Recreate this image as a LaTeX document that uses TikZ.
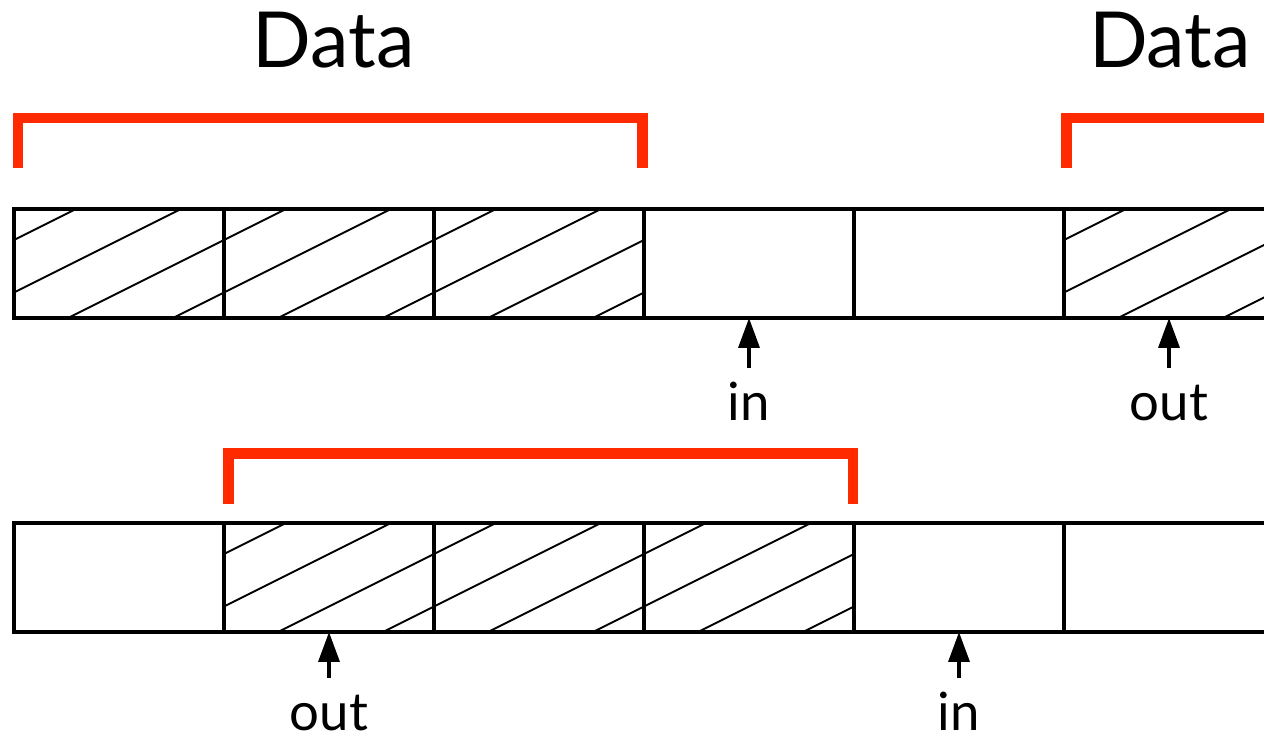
\documentclass[tikz,border=0pt]{standalone}
\usepackage{fontspec}
\setmainfont{Lato}
\usetikzlibrary{arrows.meta, positioning, calc}
\definecolor{bracketred}{RGB}{255,42,0}

\begin{document}
\begin{tikzpicture}[
  cell/.style={draw, line width=2pt, minimum width=4.2cm, minimum height=2.18cm, inner sep=0pt, outer sep=0pt},
  hatch/.style={line width=1.1pt},
  bracket/.style={draw=bracketred, line width=6pt, line join=miter},
  ptr/.style={-{Triangle[length=0.6cm, width=0.42cm]}, line width=2pt, shorten <=0.28cm},
  ptrlbl/.style={font=\fontsize{30}{36}\selectfont, inner sep=0pt, text height=22pt, anchor=base},
  title/.style={font=\fontsize{44}{52}\selectfont, inner sep=0pt, anchor=base}
]
  \useasboundingbox (0,0) rectangle (25.28,14.84);
  \clip (0,0) rectangle (25.28,14.84);

  \node[title] (d1) at (6.67,13.48) {Data};
  \node[title] (d2) at (23.4,13.48) {Data};
  \draw[bracket] (0.36,11.48) -- (0.36,12.48) -- (12.85,12.48) -- (12.85,11.48);
  \draw[bracket] (21.33,11.48) -- (21.33,12.48) -- (26,12.48);

  \node[cell] (t0) at (2.38,9.57) {};
  \node[cell] (t1) at (6.58,9.57) {};
  \node[cell] (t2) at (10.78,9.57) {};
  \node[cell] (t3) at (14.98,9.57) {};
  \node[cell] (t4) at (19.18,9.57) {};
  \node[cell] (t5) at (23.38,9.57) {};

  \begin{scope}
    \clip (t0.north west) rectangle (t2.south east) (t5.north west) rectangle (t5.south east);
    \foreach \k in {-3,...,12}
      \draw[hatch] ({1.36+2.1*\k-4},6.48) -- ({1.36+2.1*\k+6},11.48);
  \end{scope}

  \node[ptrlbl] (tin) at (14.98,6.42) {in};
  \node[ptrlbl] (tout) at (23.38,6.42) {out};
  \draw[ptr] (tin.north) -- (t3.south);
  \draw[ptr] (tout.north) -- (t5.south);

  \draw[bracket] (4.57,4.76) -- (4.57,5.77) -- (17.06,5.77) -- (17.06,4.76);

  \node[cell] (b0) at (2.38,3.29) {};
  \node[cell] (b1) at (6.58,3.29) {};
  \node[cell] (b2) at (10.78,3.29) {};
  \node[cell] (b3) at (14.98,3.29) {};
  \node[cell] (b4) at (19.18,3.29) {};
  \node[cell] (b5) at (23.38,3.29) {};

  \begin{scope}
    \clip (b1.north west) rectangle (b3.south east);
    \foreach \k in {-3,...,12}
      \draw[hatch] ({1.36+2.1*\k-4},0.2) -- ({1.36+2.1*\k+6},5.2);
  \end{scope}

  \node[ptrlbl] (bout) at (6.58,0.22) {out};
  \node[ptrlbl] (bin) at (19.18,0.22) {in};
  \draw[ptr] (bout.north) -- (b1.south);
  \draw[ptr] (bin.north) -- (b4.south);
\end{tikzpicture}
\end{document}
